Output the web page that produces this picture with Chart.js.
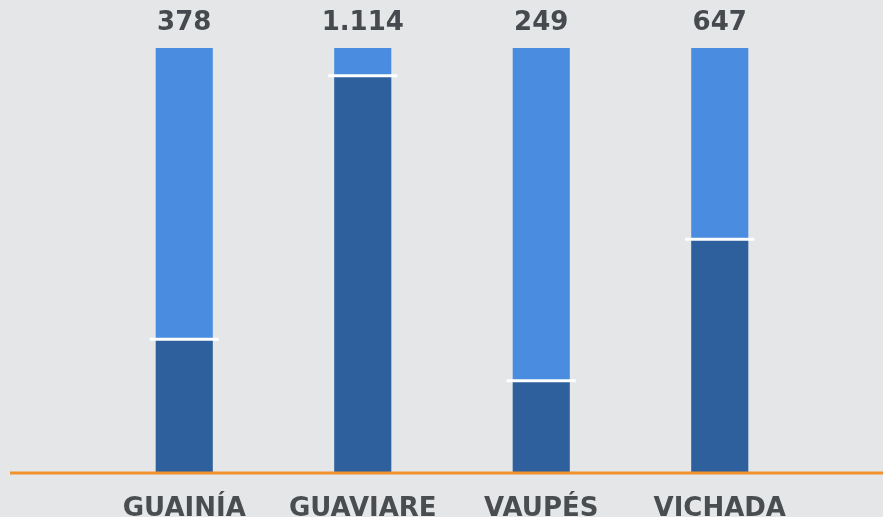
<!DOCTYPE html>
<html>
<head>
<meta charset="utf-8">
<script src="https://cdn.jsdelivr.net/npm/chart.js@4.4.0/dist/chart.umd.min.js"></script>
<style>
    html, body { margin: 0; padding: 0; background: #e5e6e8; }
    #wrap { width: 883px; height: 517px; }
</style>
</head>
<body>
<div id="wrap"><canvas id="barChart"></canvas></div>
<script>
const departamentos = ['GUAINÍA', 'GUAVIARE', 'VAUPÉS', 'VICHADA'];
const totales = [378, 1114, 249, 647];
const parteOscura = [119, 1041, 54, 356];
const parteClara = totales.map((t, i) => t - parteOscura[i]);

const pctOscura = parteOscura.map((v, i) => v / totales[i] * 100);
const pctClara = parteClara.map((v, i) => v / totales[i] * 100);

const fmt = n => n.toLocaleString('es-CO').replace(/,/g, '.');

const extras = {
    id: 'extras',
    afterDatasetsDraw(chart) {
        const ctx = chart.ctx;
        const y = chart.scales.y;
        const base = y.getPixelForValue(0);

        // linea naranja de base
        ctx.save();
        ctx.strokeStyle = '#f0922e';
        ctx.lineWidth = 3;
        ctx.beginPath();
        ctx.moveTo(10, base);
        ctx.lineTo(chart.width, base);
        ctx.stroke();

        // separador blanco entre segmentos
        const dark = chart.getDatasetMeta(0).data;
        dark.forEach(bar => {
            ctx.strokeStyle = '#ffffff';
            ctx.lineWidth = 3;
            ctx.beginPath();
            ctx.moveTo(bar.x - bar.width / 2 - 6, bar.y);
            ctx.lineTo(bar.x + bar.width / 2 + 6, bar.y);
            ctx.stroke();
        });

        // totales arriba
        const light = chart.getDatasetMeta(1).data;
        ctx.fillStyle = '#464a4e';
        ctx.font = 'bold 26px "DejaVu Sans"';
        ctx.textAlign = 'center';
        ctx.textBaseline = 'middle';
        light.forEach((bar, i) => {
            ctx.fillText(fmt(totales[i]), bar.x, bar.y - 25);
        });
        ctx.restore();
    }
};

new Chart(document.getElementById('barChart'), {
    type: 'bar',
    data: {
        labels: departamentos,
        datasets: [
            { label: 'oscura', data: pctOscura, backgroundColor: '#2f609e' },
            { label: 'clara', data: pctClara, backgroundColor: '#4a8de0' }
        ]
    },
    options: {
        responsive: true,
        maintainAspectRatio: false,
        animation: false,
        layout: { padding: { top: 48, left: 95, right: 74, bottom: 0 } },
        plugins: { legend: { display: false }, tooltip: { enabled: false } },
        datasets: { bar: { barPercentage: 0.32, categoryPercentage: 1 } },
        scales: {
            x: {
                stacked: true,
                grid: { display: false },
                border: { display: false },
                afterFit: scale => { scale.height = 44; },
                ticks: {
                    color: '#4a4d50',
                    padding: 13,
                    font: { family: 'DejaVu Sans', size: 26, weight: 'bold' }
                }
            },
            y: {
                stacked: true,
                display: false,
                min: 0,
                max: 100
            }
        }
    },
    plugins: [extras]
});
</script>
</body>
</html>
